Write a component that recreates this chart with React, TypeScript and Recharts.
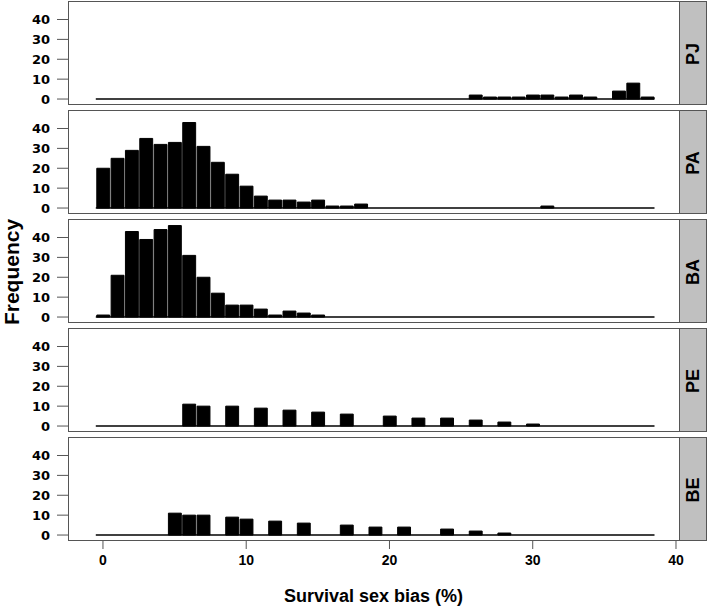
import { Bar, BarChart, ReferenceLine, XAxis, YAxis } from 'recharts';

// histogram bins (centres), width 1, spanning -0.5..38.5
const BIN_CENTERS = [
  0, 1, 2, 3, 4, 5, 6, 7, 8, 9, 10, 11, 12, 13, 14, 15, 16, 17, 18, 19,
  20, 21, 22, 23, 24, 25, 26, 27, 28, 29, 30, 31, 32, 33, 34, 35, 36, 37, 38,
];

const PJ_COUNTS = [
  0, 0, 0, 0, 0, 0, 0, 0, 0, 0, 0, 0, 0, 0, 0, 0, 0, 0, 0, 0,
  0, 0, 0, 0, 0, 0, 2, 1, 1, 1, 2, 2, 1, 2, 1, 0, 4, 8, 1,
];
const PA_COUNTS = [
  20, 25, 29, 35, 32, 33, 43, 31, 23, 17, 11, 6, 4, 4, 3, 4, 1, 1, 2, 0,
  0, 0, 0, 0, 0, 0, 0, 0, 0, 0, 0, 1, 0, 0, 0, 0, 0, 0, 0,
];
const BA_COUNTS = [
  1, 21, 43, 39, 44, 46, 31, 20, 12, 6, 6, 4, 1, 3, 2, 1, 0, 0, 0, 0,
  0, 0, 0, 0, 0, 0, 0, 0, 0, 0, 0, 0, 0, 0, 0, 0, 0, 0, 0,
];
const PE_COUNTS = [
  0, 0, 0, 0, 0, 0, 11, 10, 0, 10, 0, 9, 0, 8, 0, 7, 0, 6, 0, 0,
  5, 0, 4, 0, 4, 0, 3, 0, 2, 0, 1, 0, 0, 0, 0, 0, 0, 0, 0,
];
const BE_COUNTS = [
  0, 0, 0, 0, 0, 11, 10, 10, 0, 9, 8, 0, 7, 0, 6, 0, 0, 5, 0, 4,
  0, 4, 0, 0, 3, 0, 2, 0, 1, 0, 0, 0, 0, 0, 0, 0, 0, 0, 0,
];

const PANEL_LABELS = ['PJ', 'PA', 'BA', 'PE', 'BE'];
const PANEL_COUNTS = [PJ_COUNTS, PA_COUNTS, BA_COUNTS, PE_COUNTS, BE_COUNTS];

const X_TICKS = [0, 10, 20, 30, 40];
const Y_TICKS = [0, 10, 20, 30, 40];
const X_DOMAIN = [-2.44, 40.21];
const Y_DOMAIN = [-3, 49.3];
const BIN_RANGE = [-0.5, 38.5];

const CHART_W = 709;
const Y_AXIS_W = 68;
const RIGHT_MARGIN = 30;
const PANEL_H = 104;
const PANEL_TOPS = [1, 110, 219, 328, 437];
const X_AXIS_H = 40;
const PAD_BOTTOM = 10;
const PLOT_W = CHART_W - Y_AXIS_W - RIGHT_MARGIN;
const BAR_PX = PLOT_W / (X_DOMAIN[1] - X_DOMAIN[0]);

const FONT = '"Liberation Sans", Arial, sans-serif';
const TICK_FONT = '"DejaVu Sans", Verdana, sans-serif';
const FRAME = '#555';

interface HistPanelProps {
  label: string;
  counts: number[];
  top: number;
  showXAxis: boolean;
}

function HistPanel({ label, counts, top, showXAxis }: HistPanelProps) {
  const data = BIN_CENTERS.map((bin, i) => ({ bin, count: counts[i] }));
  const padBottom = showXAxis ? 0 : PAD_BOTTOM;
  const height = PANEL_H + (showXAxis ? X_AXIS_H : PAD_BOTTOM);
  return (
    <div style={{ position: 'absolute', left: 0, top, width: CHART_W, height }}>
      <BarChart
        width={CHART_W}
        height={height}
        data={data}
        margin={{ top: 0, right: RIGHT_MARGIN, bottom: padBottom, left: 0 }}
        barGap={0}
        barCategoryGap={0}
      >
        <XAxis
          type="number"
          dataKey="bin"
          domain={X_DOMAIN}
          ticks={X_TICKS}
          interval={0}
          allowDataOverflow
          hide={!showXAxis}
          height={X_AXIS_H}
          axisLine={false}
          tickSize={8}
          tickMargin={6}
          tickLine={{ stroke: FRAME }}
          tick={{ fill: '#000', fontSize: 14, fontWeight: 700, fontFamily: FONT }}
        />
        <YAxis
          type="number"
          domain={Y_DOMAIN}
          ticks={Y_TICKS}
          interval={0}
          allowDataOverflow
          width={Y_AXIS_W}
          axisLine={false}
          tickSize={11}
          tickMargin={7}
          tickLine={{ stroke: FRAME }}
          tick={{ fill: '#000', fontSize: 13, fontWeight: 700, fontFamily: TICK_FONT }}
        />
        <ReferenceLine
          segment={[
            { x: BIN_RANGE[0], y: 0 },
            { x: BIN_RANGE[1], y: 0 },
          ]}
          stroke="#000"
          strokeWidth={1.5}
          ifOverflow="visible"
        />
        <Bar
          dataKey="count"
          fill="#000"
          stroke="#000"
          strokeWidth={1}
          barSize={BAR_PX}
          isAnimationActive={false}
        />
      </BarChart>
      <div
        style={{
          position: 'absolute',
          left: Y_AXIS_W,
          top: 0,
          width: PLOT_W + 1,
          height: PANEL_H,
          boxSizing: 'border-box',
          border: `1px solid ${FRAME}`,
          pointerEvents: 'none',
        }}
      />
      <div
        style={{
          position: 'absolute',
          left: Y_AXIS_W + PLOT_W,
          top: 0,
          width: 28,
          height: PANEL_H,
          boxSizing: 'border-box',
          border: `1px solid ${FRAME}`,
          background: '#c0c0c0',
        }}
      >
        <div
          style={{
            position: 'absolute',
            left: -40,
            top: PANEL_H / 2 - 12,
            width: 106,
            height: 24,
            lineHeight: '24px',
            textAlign: 'center',
            transform: 'rotate(-90deg)',
            fontFamily: FONT,
            fontWeight: 700,
            fontSize: 18,
            color: '#000',
          }}
        >
          {label}
        </div>
      </div>
    </div>
  );
}

export default function App() {
  return (
    <div
      style={{
        position: 'absolute',
        left: 0,
        top: 0,
        width: 709,
        height: 606,
        background: '#fff',
        overflow: 'hidden',
        fontFamily: FONT,
      }}
    >
      {PANEL_LABELS.map((label, i) => (
        <HistPanel
          key={label}
          label={label}
          counts={PANEL_COUNTS[i]}
          top={PANEL_TOPS[i]}
          showXAxis={i === PANEL_LABELS.length - 1}
        />
      ))}
      <div
        style={{
          position: 'absolute',
          left: 12 - 100,
          top: 272 - 13,
          width: 200,
          height: 26,
          lineHeight: '26px',
          textAlign: 'center',
          transform: 'rotate(-90deg)',
          fontWeight: 700,
          fontSize: 21,
          color: '#000',
        }}
      >
        Frequency
      </div>
      <div
        style={{
          position: 'absolute',
          left: Y_AXIS_W,
          top: 584,
          width: PLOT_W,
          height: 24,
          lineHeight: '24px',
          textAlign: 'center',
          fontWeight: 700,
          fontSize: 18,
          color: '#000',
        }}
      >
        Survival sex bias (%)
      </div>
    </div>
  );
}
